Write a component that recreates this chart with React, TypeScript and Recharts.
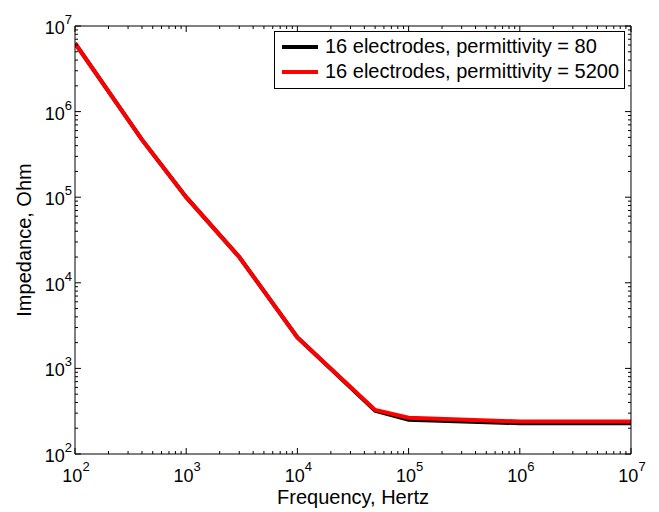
import { LineChart, Line, XAxis, YAxis, Legend } from "recharts";

// frequency sweep, Hz
const frequencies = [100, 400, 1000, 3000, 10000, 50000, 100000, 1000000, 10000000];
// impedance magnitude, Ohm
const impedanceEps80 = [6.3e6, 4.7e5, 1.0e5, 2.0e4, 2300, 320, 252, 229, 229];
const impedanceEps5200 = [6.3e6, 4.7e5, 1.0e5, 2.0e4, 2300, 328, 265, 240, 240];

const seriesNames = ["16 electrodes, permittivity = 80", "16 electrodes, permittivity = 5200"];

const xMajor = [1e2, 1e3, 1e4, 1e5, 1e6, 1e7];
const yMajor = [1e2, 1e3, 1e4, 1e5, 1e6, 1e7];
const minorSteps = [2, 3, 4, 5, 6, 7, 8, 9];
const xTicks = [...xMajor, ...xMajor.slice(0, -1).flatMap((d) => minorSteps.map((m) => m * d))];
const yTicks = [...yMajor, ...yMajor.slice(0, -1).flatMap((d) => minorSteps.map((m) => m * d))];

const data = frequencies.map((f, i) => ({
  freq: f,
  eps80: impedanceEps80[i],
  eps5200: impedanceEps5200[i],
}));

const FONT = "'Liberation Sans', Arial, Helvetica, sans-serif";
const X_DOMAIN: [number, number] = [1e2, 1e7];
const Y_DOMAIN: [number, number] = [1e2, 1e7];
const THIN = 0.001;
const MAJOR_LEN = 6;
const MINOR_LEN = 3;

function expOf(v: number) {
  return Math.round(Math.log10(v));
}
function isMajor(v: number) {
  return Math.abs(Math.log10(v) - expOf(v)) < 1e-6;
}

// bottom: inward tick mark + "10^n" label on decades
function BottomTick({ x, y, payload }: any) {
  const major = isMajor(payload.value);
  return (
    <g>
      <line x1={x} x2={x} y1={y} y2={y - (major ? MAJOR_LEN : MINOR_LEN)} stroke="#000" />
      {major && (
        <text x={x + 1} y={y + 28} textAnchor="middle" fontSize={18} fontFamily={FONT} fill="#000">
          10<tspan dy={-11} fontSize={13}>{expOf(payload.value)}</tspan>
        </text>
      )}
    </g>
  );
}

function LeftTick({ x, y, payload }: any) {
  const major = isMajor(payload.value);
  return (
    <g>
      <line x1={x} x2={x + (major ? MAJOR_LEN : MINOR_LEN)} y1={y} y2={y} stroke="#000" />
      {major && (
        <text x={x - 3} y={y + 8} textAnchor="end" fontSize={18} fontFamily={FONT} fill="#000">
          10<tspan dy={-10} fontSize={13}>{expOf(payload.value)}</tspan>
        </text>
      )}
    </g>
  );
}

function TopTick({ x, y, payload }: any) {
  const len = isMajor(payload.value) ? MAJOR_LEN : MINOR_LEN;
  return <line x1={x} x2={x} y1={y} y2={y + len} stroke="#000" />;
}

function RightTick({ x, y, payload }: any) {
  const len = isMajor(payload.value) ? MAJOR_LEN : MINOR_LEN;
  return <line x1={x} x2={x - len} y1={y} y2={y} stroke="#000" />;
}

function LegendBox({ payload }: any) {
  return (
    <div
      style={{
        border: "1px solid #000",
        background: "#fff",
        height: 54,
        boxSizing: "content-box",
        paddingTop: 2,
        fontFamily: FONT,
        fontSize: 20,
        color: "#000",
      }}
    >
      {(payload || []).map((entry: any) => (
        <div key={entry.value} style={{ display: "flex", alignItems: "center", height: 25, paddingLeft: 7 }}>
          <span style={{ display: "inline-block", width: 36, height: 4, background: entry.color, marginRight: 7 }} />
          <span style={{ whiteSpace: "nowrap" }}>{entry.value}</span>
        </div>
      ))}
    </div>
  );
}

const frame = { stroke: "#000", strokeWidth: 1 };

export default function App() {
  return (
    <div style={{ position: "absolute", left: 0, top: 0, width: 659, height: 512, background: "#fff" }}>
      <LineChart width={659} height={512} data={data} margin={{ top: 26, right: 28, left: 0, bottom: 0 }}>
        <XAxis
          xAxisId="x"
          dataKey="freq"
          type="number"
          scale="log"
          domain={X_DOMAIN}
          allowDataOverflow
          ticks={xTicks}
          interval={0}
          height={58}
          tickSize={0}
          tickMargin={0}
          tickLine={false}
          axisLine={frame}
          tick={<BottomTick />}
          label={({ viewBox }: any) => (
            <text
              x={viewBox.x + viewBox.width / 2}
              y={504}
              textAnchor="middle"
              fontSize={20}
              fontFamily={FONT}
              fill="#000"
            >
              Frequency, Hertz
            </text>
          )}
        />
        <XAxis
          xAxisId="top"
          dataKey="freq"
          orientation="top"
          type="number"
          scale="log"
          domain={X_DOMAIN}
          allowDataOverflow
          ticks={xTicks}
          interval={0}
          height={THIN}
          tickSize={0}
          tickMargin={0}
          tickLine={false}
          axisLine={frame}
          tick={<TopTick />}
        />
        <YAxis
          yAxisId="y"
          type="number"
          scale="log"
          domain={Y_DOMAIN}
          allowDataOverflow
          ticks={yTicks}
          interval={0}
          width={75}
          tickSize={0}
          tickMargin={0}
          tickLine={false}
          axisLine={frame}
          tick={<LeftTick />}
          label={({ viewBox }: any) => {
            const cy = viewBox.y + viewBox.height / 2;
            return (
              <text
                x={31}
                y={cy}
                transform={`rotate(-90, 31, ${cy})`}
                textAnchor="middle"
                fontSize={20}
                fontFamily={FONT}
                fill="#000"
              >
                Impedance, Ohm
              </text>
            );
          }}
        />
        <YAxis
          yAxisId="right"
          orientation="right"
          type="number"
          scale="log"
          domain={Y_DOMAIN}
          allowDataOverflow
          ticks={yTicks}
          interval={0}
          width={THIN}
          tickSize={0}
          tickMargin={0}
          tickLine={false}
          axisLine={frame}
          tick={<RightTick />}
        />

        <Legend
          layout="vertical"
          align="center"
          verticalAlign="middle"
          itemSorter={(item: any) => seriesNames.indexOf(item.value)}
          wrapperStyle={{ top: 31, left: 274, width: 351 }}
          content={<LegendBox />}
        />

        <Line
          xAxisId="x"
          yAxisId="y"
          type="linear"
          dataKey="eps80"
          name={seriesNames[0]}
          stroke="#000000"
          strokeWidth={4}
          dot={false}
          isAnimationActive={false}
        />
        <Line
          xAxisId="x"
          yAxisId="y"
          type="linear"
          dataKey="eps5200"
          name={seriesNames[1]}
          stroke="#ff0000"
          strokeWidth={4}
          dot={false}
          isAnimationActive={false}
        />
      </LineChart>
    </div>
  );
}
